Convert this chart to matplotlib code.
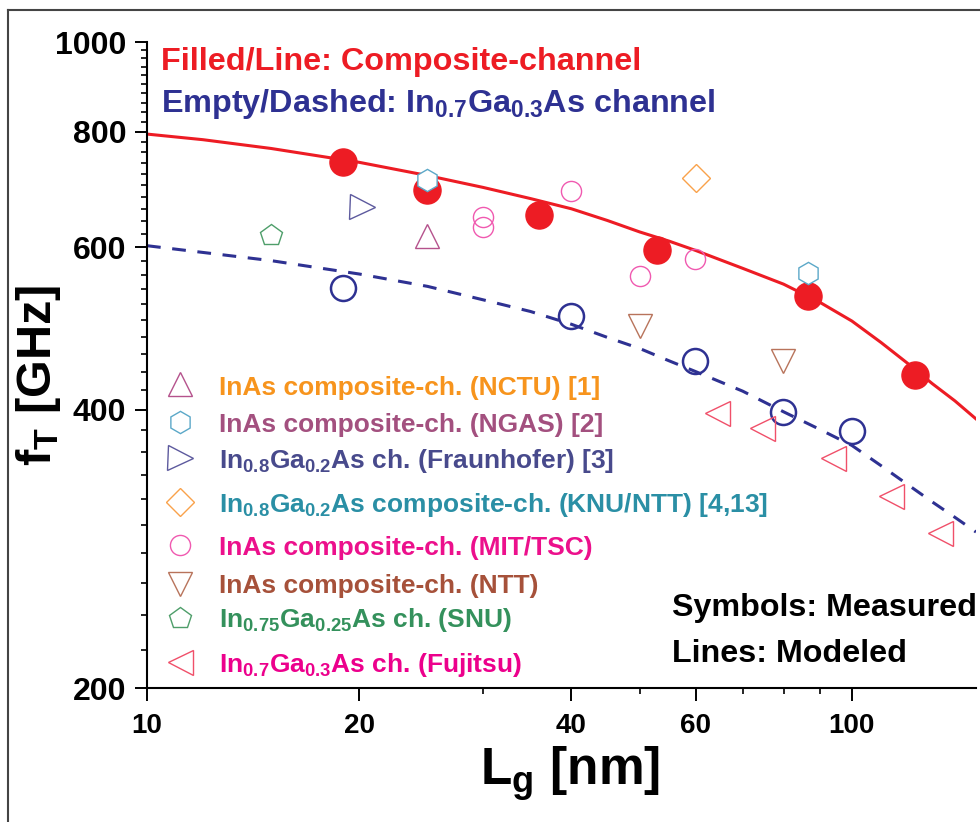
import matplotlib
matplotlib.use('Agg')
import matplotlib.pyplot as plt
from matplotlib.lines import Line2D
from matplotlib.ticker import FixedLocator, FixedFormatter, NullFormatter

plt.rcParams['font.family'] = ['Liberation Sans', 'DejaVu Sans']
plt.rcParams['font.weight'] = 'bold'
plt.rcParams['mathtext.default'] = 'regular'

# this work: composite channel (filled) and In0.7Ga0.3As channel (empty)
lg_comp = [19, 25, 36, 52.9, 86.6, 123]
ft_comp = [741, 691, 650, 596, 531, 436]
lg_ingaas = [19, 40, 59.9, 79.8, 100]
ft_ingaas = [542, 505, 452, 398, 379]

# modeled curves
lg_model = [10, 12, 15, 20, 25, 30, 35, 40, 45, 50, 55, 60, 70, 80, 90, 100, 110, 120, 130, 140, 150]
ft_model_comp = [795, 784, 767, 741, 717, 696, 677, 660, 641, 623, 609, 595, 569, 547, 523, 499,
                 473, 449, 427, 409, 391]
ft_model_ingaas = [602, 592, 580, 561, 544, 526, 511, 495, 479, 466, 452, 440, 419, 398, 381, 366,
                   348, 332, 318, 306, 295]

# published data
lg_nctu, ft_nctu = [25], [617]
lg_ngas, ft_ngas = [25, 86.7], [709, 562]
lg_fraun, ft_fraun = [20.2], [663]
lg_knu, ft_knu = [60], [712]
lg_mit, ft_mit = [30, 30, 40, 50, 59.9], [647, 631, 690, 558, 582]
lg_ntt, ft_ntt = [50, 79.8], [493, 452]
lg_snu, ft_snu = [15], [618]
lg_fuji, ft_fuji = [64.3, 74.5, 93.9, 113.8, 133.2], [397, 382, 355, 323, 294]

labels = ['InAs composite-ch. (NCTU) [1]',
          'InAs composite-ch. (NGAS) [2]',
          'In$_{0.8}$Ga$_{0.2}$As ch. (Fraunhofer) [3]',
          'In$_{0.8}$Ga$_{0.2}$As composite-ch. (KNU/NTT) [4,13]',
          'InAs composite-ch. (MIT/TSC)',
          'InAs composite-ch. (NTT)',
          'In$_{0.75}$Ga$_{0.25}$As ch. (SNU)',
          'In$_{0.7}$Ga$_{0.3}$As ch. (Fujitsu)']
markers = ['^', 'h', '>', 'D', 'o', 'v', 'p', '<']
msizes = [17, 16, 18, 14, 14.5, 17, 16, 18]
mcolors = ['#B5528C', '#5BA8C8', '#5D5A9E', '#F9A24B', '#F05AB0', '#B8735B', '#4E9E6A', '#F0506A']
tcolors = ['#F7941D', '#A3507F', '#484A8C', '#2A8FA5', '#EC108C', '#A6513A', '#34915C', '#EC008C']
groups = [(lg_nctu, ft_nctu), (lg_ngas, ft_ngas), (lg_fraun, ft_fraun), (lg_knu, ft_knu),
          (lg_mit, ft_mit), (lg_ntt, ft_ntt), (lg_snu, ft_snu), (lg_fuji, ft_fuji)]

red = '#ED1C24'
blue = '#2E3192'

W, H = 980, 822
fig = plt.figure(figsize=(9.8, 8.22), dpi=100)
ax = fig.add_axes([147 / W, 1 - 688 / H, (976 - 147) / W, (688 - 42) / H])

ax.plot(lg_model, ft_model_comp, color=red, lw=2.2, zorder=2)
ax.plot(lg_model, ft_model_ingaas, color=blue, lw=2.2, dashes=(4.5, 3.8), zorder=2)
ax.plot(lg_comp, ft_comp, 'o', color=red, ms=19.5, zorder=3)
ax.plot(lg_ingaas, ft_ingaas, 'o', mfc='none', mec=blue, mew=1.8, ms=18, zorder=4)

for (x, y), m, ms, c in zip(groups, markers, msizes, mcolors):
    face = 'white' if m == 'h' else 'none'
    ax.plot(x, y, m, mfc=face, mec=c, mew=1.0, ms=ms, ls='none', zorder=5)

ax.set_xscale('log')
ax.set_yscale('log')
ax.set_xlim(10, 150)
ax.set_ylim(200, 1000)

ax.xaxis.set_major_locator(FixedLocator([10, 20, 40, 60, 100]))
ax.xaxis.set_major_formatter(FixedFormatter(['10', '20', '40', '60', '100']))
ax.xaxis.set_minor_locator(FixedLocator([30, 50, 70, 80, 90]))
ax.xaxis.set_minor_formatter(NullFormatter())
ax.yaxis.set_major_locator(FixedLocator([200, 400, 600, 800, 1000]))
ax.yaxis.set_major_formatter(FixedFormatter(['200', '400', '600', '800', '1000']))
ax.yaxis.set_minor_locator(FixedLocator([v for v in range(220, 1000, 20) if v % 200 != 0]))
ax.yaxis.set_minor_formatter(NullFormatter())

ax.spines['top'].set_visible(False)
ax.spines['right'].set_visible(False)
ax.spines['left'].set_linewidth(1.5)
ax.spines['bottom'].set_linewidth(1.5)
ax.tick_params(which='major', direction='out', length=9, width=1.4)
ax.tick_params(which='minor', direction='out', length=4.5, width=1.2)
ax.tick_params(axis='y', which='major', labelsize=23, pad=6)
ax.tick_params(axis='x', which='major', labelsize=20, pad=9)

# axis titles
fig.text(39 / W, 1 - 375 / H, 'f$_T$ [GHz]', rotation=90, fontsize=35,
         ha='center', va='center')
fig.text(570 / W, 1 - 785 / H, 'L$_g$ [nm]', fontsize=37, ha='center', va='baseline')

# headers
fig.text(161 / W, 1 - 70 / H, 'Filled/Line: Composite-channel', color=red, fontsize=23.3)
fig.text(161 / W, 1 - 112 / H, 'Empty/Dashed: In$_{0.7}$Ga$_{0.3}$As channel', color=blue,
         fontsize=23.3)
fig.text(672 / W, 1 - 616 / H, 'Symbols: Measured', color='black', fontsize=23.2)
fig.text(672 / W, 1 - 662 / H, 'Lines: Modeled', color='black', fontsize=23.2)

# legend block
row_marker = [384, 422, 458, 502, 545, 584, 618, 662]
row_base = [395, 432, 468, 512, 555, 593, 627, 672]
for lab, m, ms, mc, tc, ym, yb in zip(labels, markers, msizes, mcolors, tcolors, row_marker, row_base):
    fig.add_artist(Line2D([180 / W], [1 - ym / H], marker=m, ms=ms, mfc='none', mec=mc, mew=1.0,
                          ls='none'))
    fig.text(219 / W, 1 - yb / H, lab, color=tc, fontsize=19, va='baseline')

# outer frame
fig.add_artist(Line2D([8 / W, 8 / W], [0, 1 - 10 / H], color='#444444', lw=1.5))
fig.add_artist(Line2D([8 / W, 1], [1 - 10 / H, 1 - 10 / H], color='#444444', lw=1.5))

fig.savefig('out.png', dpi=100)
